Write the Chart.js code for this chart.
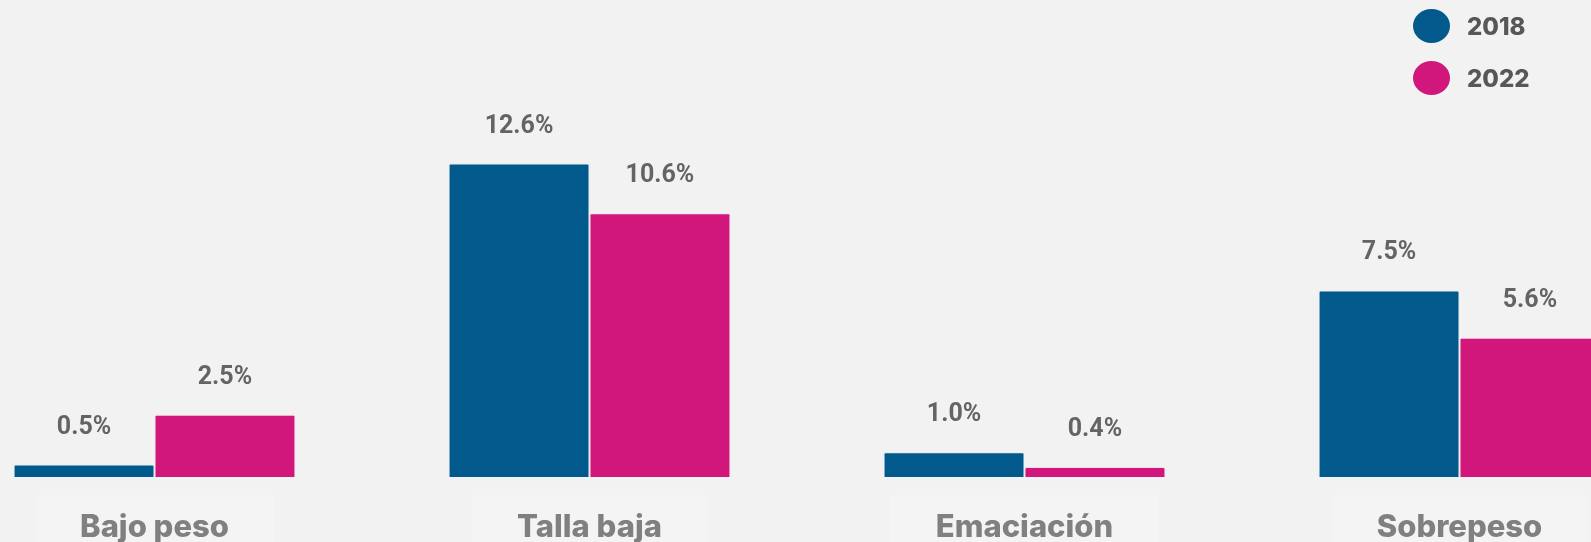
<!DOCTYPE html>
<html>
<head>
<meta charset="utf-8">
<script src="https://cdn.jsdelivr.net/npm/chart.js@4/dist/chart.umd.min.js"></script>
<style>
  html, body { margin: 0; padding: 0; background: #f2f2f2; overflow: hidden; }
  body { width: 1591px; height: 542px; position: relative; }
  #wrap { position: absolute; left: -63px; top: 0; width: 1740px; height: 542px; }
  #legend { position: absolute; left: 1413px; top: 9px; font-family: Inter, "Noto Sans", sans-serif; font-weight: 800; font-size: 24px; color: #575757; }
  .item { display: flex; align-items: center; height: 34px; margin-bottom: 18px; }
  .dot { width: 37px; height: 34px; border-radius: 50%; margin-right: 17px; }
</style>
</head>
<body>
<div id="wrap"><canvas id="c" width="1740" height="542"></canvas></div>
<div id="legend"></div>
<script>
const categories = ["Bajo peso", "Talla baja", "Emaciación", "Sobrepeso"];
const seriesNames = ["2018", "2022"];
const values2018 = [0.5, 12.6, 1.0, 7.5];
const values2022 = [2.5, 10.6, 0.4, 5.6];
const colors = ["#01598c", "#d1177b"];

const labelsPlugin = {
  id: 'valueLabels',
  beforeDatasetsDraw(chart) {
    const ctx = chart.ctx;
    const xs = chart.scales.x;
    ctx.save();
    ctx.font = '800 31px Inter, "Noto Sans", sans-serif';
    categories.forEach((c, i) => {
      const x = xs.getPixelForValue(i);
      const w = ctx.measureText(c).width + 90;
      ctx.fillStyle = '#f4f4f4';
      ctx.fillRect(x - w / 2, 495, w, 60);
      ctx.fillStyle = '#808080';
      ctx.textAlign = 'center';
      ctx.textBaseline = 'alphabetic';
      ctx.fillText(c, x, 537);
    });
    ctx.restore();
  },
  afterDatasetsDraw(chart) {
    const ctx = chart.ctx;
    ctx.save();
    ctx.font = '700 25px Roboto, sans-serif';
    ctx.fillStyle = '#646464';
    ctx.textAlign = 'center';
    ctx.textBaseline = 'alphabetic';
    chart.data.datasets.forEach((ds, di) => {
      chart.getDatasetMeta(di).data.forEach((bar, i) => {
        ctx.fillText(ds.data[i].toFixed(1) + '%', bar.x, bar.y - 31);
      });
    });
    ctx.restore();
  }
};

const common = { borderWidth: 1, borderRadius: 2, borderSkipped: 'bottom', categoryPercentage: 0.648, barPercentage: 1.0 };

new Chart(document.getElementById('c'), {
  type: 'bar',
  data: {
    labels: categories,
    datasets: [
      Object.assign({ label: seriesNames[0], data: values2018, backgroundColor: colors[0], borderColor: 'rgba(225,235,242,0.9)' }, common),
      Object.assign({ label: seriesNames[1], data: values2022, backgroundColor: colors[1], borderColor: 'rgba(242,220,232,0.9)' }, common)
    ]
  },
  options: {
    responsive: false,
    animation: false,
    layout: { padding: { top: 79, bottom: 65, left: 0, right: 0 } },
    plugins: { legend: { display: false }, tooltip: { enabled: false } },
    scales: {
      x: { display: false },
      y: { display: false, min: 0, max: 16 }
    }
  },
  plugins: [labelsPlugin]
});

const lg = document.getElementById('legend');
seriesNames.forEach((n, i) => {
  const it = document.createElement('div');
  it.className = 'item';
  it.innerHTML = '<span class="dot" style="background:' + colors[i] + '"></span><span>' + n + '</span>';
  lg.appendChild(it);
});
</script>
</body>
</html>
